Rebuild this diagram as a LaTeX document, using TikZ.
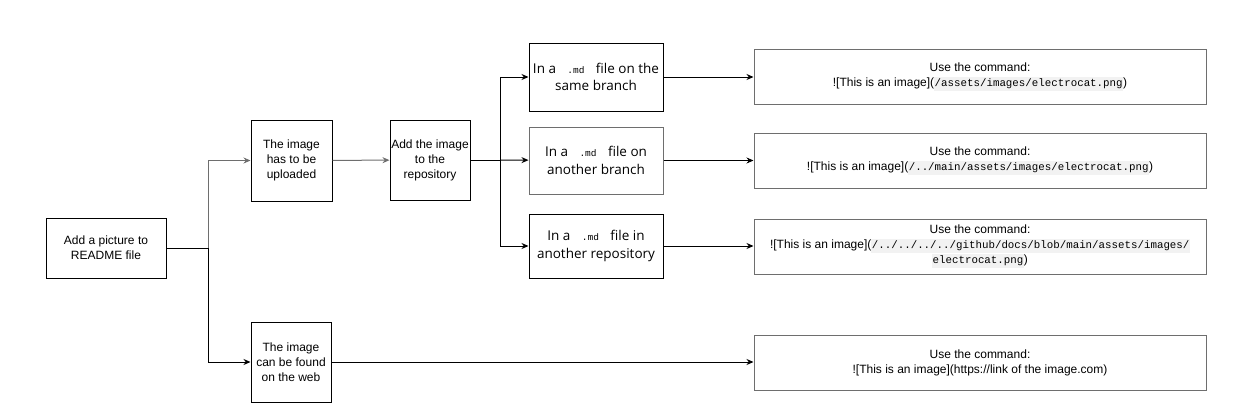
\documentclass[tikz,border=0pt]{standalone}
\usepackage{fontspec}
\setmainfont{Liberation Sans}
\newfontfamily\uifont{Open Sans}
\setmonofont{Liberation Mono}
\usepackage{xcolor}
\usetikzlibrary{arrows.meta}

\definecolor{codebg}{RGB}{242,242,242}
\definecolor{boxgray}{RGB}{110,110,110}
\newcommand{\codetext}[1]{{\setlength{\fboxsep}{0.5pt}\colorbox{codebg}{\fontsize{10.8}{13}\ttfamily\strut #1}}}
\newcommand{\mdtext}{{\fontsize{9.5}{11}\ttfamily\ \ .md\ \ }}

\begin{document}
\begin{tikzpicture}[x=1pt,y=-1pt,line width=1pt,
  every node/.style={rectangle,draw,inner sep=0pt,align=center,font=\fontsize{12}{15}\selectfont},
  arr/.style={-{Stealth[length=7pt,width=6pt]}}]
\tikzset{%
stepbox/.style={minimum width=80pt,minimum height=80pt},
placebox/.style={minimum width=134pt,font=\uifont\fontsize{13.5}{17.5}\selectfont},
cmdbox/.style={draw=boxgray,minimum width=452pt,minimum height=55pt}
}
\useasboundingbox (0,0) rectangle (1251,418);
  \node (start) at (106,248) [minimum width=120pt,minimum height=60pt] {Add a picture to\\README file};
  \node (upload) at (291.5,160.5) [stepbox,minimum width=81pt,minimum height=81pt] {The image\\has to be\\uploaded};
  \node (repo) at (430,160) [stepbox] {Add the image\\to the\\repository};
  \node (web) at (291,362) [stepbox] {The image\\can be found\\on the web};
  \node (same) at (596,77) [placebox,minimum height=68pt] {In a\mdtext file on the\\same branch};
  \node (other) at (596,160.5) [placebox,draw=boxgray,minimum height=67pt] {In a\mdtext file on\\another branch};
  \node (otherrepo) at (596,246) [placebox,minimum height=64pt] {In a\mdtext file in\\another repository};
  \node (cmdsame) at (980,77) [cmdbox] {Use the command:\\![This is an image](\codetext{/assets/images/electrocat.png})};
  \node (cmdother) at (980,160.5) [cmdbox] {Use the command:\\![This is an image](\codetext{/../main/assets/images/electrocat.png})};
  \node (cmdrepo) at (980,246.5) [cmdbox] {Use the command:\\![This is an image](\codetext{/../../../../github/docs/blob/main/assets/images/}\\\codetext{electrocat.png})};
  \node (cmdweb) at (980,362.5) [cmdbox] {Use the command:\\![This is an image](https://link of the image.com)};
  \coordinate (split1) at (208,248);
  \coordinate (split2) at (500,160);
  % connectors
  \draw (start) -- (split1);
  \draw[arr,draw=boxgray] (split1) |- (upload);
  \draw[arr] (split1) |- (web);
  \draw[arr,draw=boxgray] (upload) -- (repo);
  \draw (repo) -- (split2);
  \draw[arr] (split2) |- (same);
  \draw[arr] (split2) -- (other);
  \draw[arr] (split2) |- (otherrepo);
  \draw[arr] (same) -- (cmdsame);
  \draw[arr] (other) -- (cmdother);
  \draw[arr] (otherrepo) -- (cmdrepo.west |- otherrepo);
  \draw[arr] (web) -- (cmdweb.west |- web);
\end{tikzpicture}
\end{document}
